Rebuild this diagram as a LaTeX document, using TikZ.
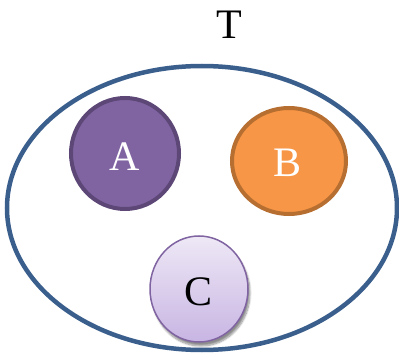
\documentclass[tikz,border=0pt]{standalone}
\usepackage{fontspec}
\setmainfont{Liberation Serif}
\usetikzlibrary{shadows.blur}
\definecolor{tblue}{HTML}{3A5F8D}
\definecolor{apurple}{HTML}{8064A2}
\definecolor{aborder}{HTML}{5C4776}
\definecolor{borange}{HTML}{F79646}
\definecolor{bborder}{HTML}{B76E31}
\definecolor{ctop}{HTML}{EEE8F6}
\definecolor{cbot}{HTML}{C8B5E3}
\definecolor{cborder}{HTML}{8064A2}
\begin{document}
\begin{tikzpicture}[x=1pt,y=1pt,
  lab/.style={font=\fontsize{42}{42}\selectfont},
  setT/.style={draw=tblue,line width=4.5pt,ellipse,minimum width=390pt,minimum height=284pt,inner sep=0pt},
  setA/.style={draw=aborder,fill=apurple,line width=4pt,text=white},
  setB/.style={draw=bborder,fill=borange,line width=4pt,text=white},
  setC/.style={draw=cborder,top color=ctop,bottom color=cbot,line width=1.5pt,text=black,
    blur shadow={shadow xshift=2pt,shadow yshift=-4pt,shadow blur steps=8,shadow opacity=45}}
]
\useasboundingbox (0,0) rectangle (399,354);
\draw[draw=tblue,line width=4.5pt] (202,146) ellipse [x radius=195, y radius=142];
\path[setA] (125,200.5) ellipse [x radius=54, y radius=55.5];
\path[setB] (289,193) ellipse [x radius=57, y radius=53];
\path[setC] (199,65) ellipse [x radius=49, y radius=53];
\node[lab,text=white] (A) at (125,197) {A};
\node[lab,text=white] (B) at (288,191) {B};
\node[lab] (C) at (199,62) {C};
\node[lab] (T) at (229,329) {T};
\end{tikzpicture}
\end{document}
